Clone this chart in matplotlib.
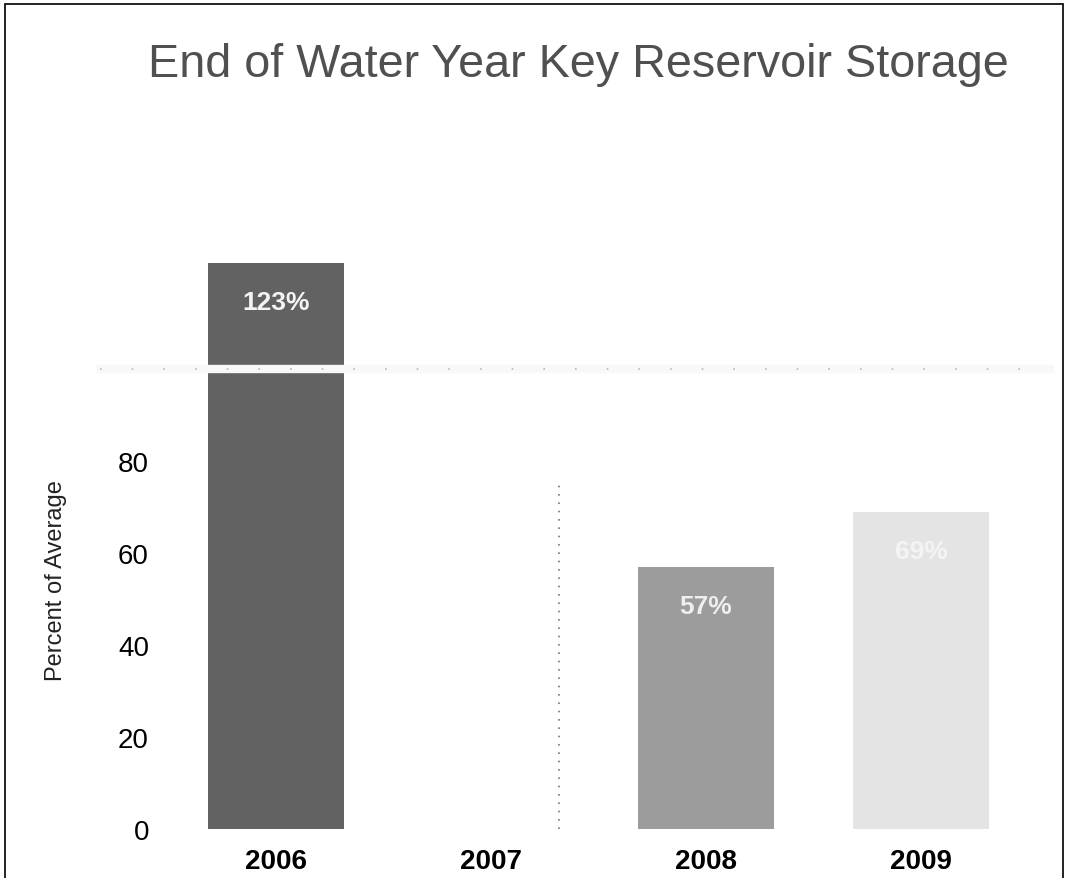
import matplotlib
matplotlib.use("Agg")
import matplotlib.pyplot as plt
from matplotlib.patches import Rectangle

# end of water year storage, percent of average
years = ["2006", "2007", "2008", "2009"]
storage = [123, 75, 57, 69]
labels = ["123%", "", "57%", "69%"]
bar_colors = ["#626262", "#ffffff", "#9c9c9c", "#e4e4e4"]
label_colors = ["#f4f4f4", "#f4f4f4", "#eeeeee", "#f4f4f4"]
yticks = [0, 20, 40, 60, 80]
avg_line = 100

plt.rcParams["font.family"] = ["Liberation Sans", "DejaVu Sans"]

fig = plt.figure(figsize=(10.68, 8.79), dpi=100)
ax = fig.add_axes([0.1498, 0.0557, 0.8333, 0.7327])

x = list(range(len(years)))
bars = ax.bar(x, storage, width=0.63, color=bar_colors, edgecolor="none", zorder=2)

# the 2007 bar only shows a faint dotted right edge
b07 = bars[1]
ax.plot([b07.get_x() + b07.get_width()] * 2, [0, b07.get_height()],
        color="#777777", lw=1.2, ls=(0, (1, 4)), zorder=3)

# average storage line: pale band, sparse dots off the bars
ax.plot([-0.82, 3.6], [avg_line, avg_line], color="#f8f8f8", lw=6,
        zorder=4, clip_on=False)
ax.plot([-0.82, 3.6], [avg_line, avg_line], color="#b8b8b8", lw=1.2,
        ls=(0, (1, 18)), zorder=4, clip_on=False)

for xi, v, lab, c in zip(x, storage, labels, label_colors):
    if lab:
        ax.text(xi, v - 8.5, lab, ha="center", va="center", fontsize=19,
                fontweight="bold", color=c, zorder=5)

ax.set_xlim(-0.54, 3.6)
ax.set_ylim(0, 140)
ax.set_xticks(x)
ax.set_xticklabels(years, fontsize=20, fontweight="bold")
ax.set_yticks(yticks)
ax.set_yticklabels([str(t) for t in yticks], fontsize=20)
ax.tick_params(axis="both", length=0)
ax.tick_params(axis="x", pad=14)
ax.tick_params(axis="y", pad=8)
for s in ax.spines.values():
    s.set_visible(False)

fig.text(0.052, 0.34, "Percent of Average", rotation=90, ha="center",
         va="center", fontsize=17, color="#222222")

fig.text(0.542, 0.926, "End of Water Year Key Reservoir Storage",
         ha="center", va="center", fontsize=33.7, color="#505050")

# page frame around the chart
fig.patches.append(Rectangle((0.005, -0.05), 0.99, 1.044, transform=fig.transFigure,
                             fill=False, edgecolor="#111111", lw=1.3))

fig.savefig("out.png", dpi=100)
